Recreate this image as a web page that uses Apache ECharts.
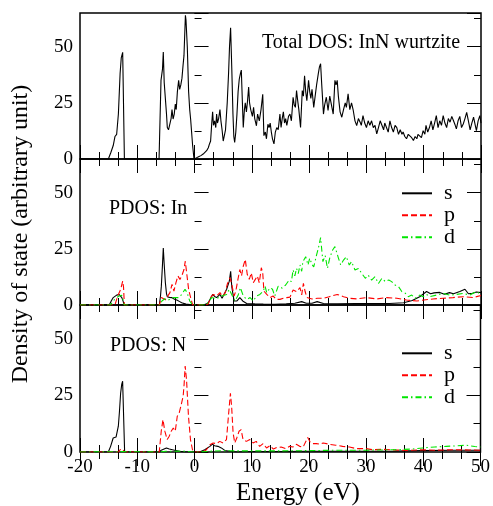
<!DOCTYPE html>
<html><head><meta charset="utf-8">
<script src="https://cdn.jsdelivr.net/npm/echarts@6.0.0/dist/echarts.min.js"></script>
<style>html,body{margin:0;padding:0;background:#fff}#c{width:493px;height:506px}</style>
</head><body><div id="c"></div>
<script>
// ---------- data ----------
const xTicks = [-20, -10, 0, 10, 20, 30, 40, 50];
const yTicks = [0, 25, 50];

const totalE = [-20,-15.05,-14.6,-14.2,-13.9,-13.6,-13.3,-13.0,-12.8,-12.55,-12.4,-12.25,-6.2,-5.86,-5.6,-5.46,-5.3,-5.1,-4.9,-4.76,-4.55,-4.3,-4.1,-3.94,-3.75,-3.55,-3.36,-3.2,-3.0,-2.78,-2.6,-2.4,-2.2,-2.0,-1.85,-1.6,-1.5,-1.27,-1.04,-0.85,-0.69,-0.34,-0.1,0.3,0.7,1.1,1.5,1.8,2.1,2.4,2.6,2.8,3.0,3.15,3.3,3.5,3.7,3.85,4.0,4.2,4.43,4.6,4.8,5.0,5.13,5.4,5.7,5.94,6.1,6.29,6.5,6.7,6.85,7.0,7.2,7.4,7.6,7.8,8.0,8.16,8.35,8.5,8.7,8.85,9.05,9.25,9.44,9.6,9.8,10.1,10.3,10.5,10.8,11.0,11.3,11.6,11.9,12.1,12.35,12.55,12.8,13.0,13.2,13.4,13.6,13.86,14.1,14.35,14.6,14.9,15.1,15.3,15.5,15.7,15.9,16.1,16.4,16.65,16.9,17.2,17.4,17.6,17.8,18.0,18.2,18.5,18.8,19.0,19.2,19.4,19.6,19.9,20.1,20.3,20.5,20.8,21.0,21.3,21.6,21.8,22.0,22.2,22.5,22.7,23.0,23.3,23.6,23.9,24.2,24.5,24.7,24.9,25.1,25.4,25.7,26.0,26.3,26.5,26.8,27.1,27.4,27.7,28.0,28.3,28.6,28.9,29.1,29.4,29.7,30.0,30.3,30.6,30.9,31.2,31.5,31.8,32.1,32.4,32.7,33.0,33.2,33.5,33.8,34.1,34.4,34.7,35.0,35.3,35.6,35.9,36.2,36.4,36.7,37.0,37.3,37.6,37.9,38.2,38.5,38.8,39.0,39.3,39.6,39.9,40.2,40.4,40.7,41.0,41.3,41.6,41.9,42.2,42.5,42.8,43.1,43.4,43.7,44.0,44.3,44.6,44.9,45.2,45.5,45.7,46.0,46.3,46.6,46.9,47.2,47.5,47.8,48.1,48.4,48.7,49.0,49.2,49.5,49.8,50];
const totalV = [0,0,3,6,10,11,20,38,45,47.5,47,0,0,35,40,47.6,34,27,20,14,13,12.5,18,22,17.8,20,24.5,22,30,35,31,33,36,42,46,64,62,50,30,22,17.8,6,0,0.5,1,1.5,2.2,2.5,3.7,5,6.7,8,16,21,15,17,14,20,16,18,22,17,13,8,7.5,13,25,38.5,50,58.4,40,20,10,7.4,12,20,30,35.5,38,39.6,25,14,22,25,21,26,32,25,22,19,23,18,14.8,20,17,22,28.8,10.4,12,9,15.5,14,16,12,9,6.7,12,14,13,20,14,18,21,16,18,15,19,20,17,27.5,24,23,30.5,26,22,14,30.5,28,37,30,26,35,30,27,31,23,27,33,38,41,42.4,33,20,24,27.5,21.6,28,24,20,35,33,35,28,21,18.6,22,25,23,29,22,25,21.6,17,14.9,18,16.4,15,19.3,16,14,17,15,17,14,15,11.2,14,17,15,13,16,15.6,12,17,14,12,15,14,11,13,11,12,10,9,11,10.5,9.5,8.2,10,9,11,11,9.5,12.6,11,15,12,14,17,13,16,19.3,14,17,15,19.3,16,14,18,16.4,19,17,15,13.4,17,19,14,15.6,18,20.8,17,13,16,18.6,15,12.6,17,19.3,16];

const inSE = [-20,-14.9,-14.5,-14.2,-13.9,-13.6,-13.2,-12.9,-12.7,-12.45,-12.3,-6.15,-5.95,-5.8,-5.6,-5.46,-5.3,-5.1,-4.9,-4.76,-4.4,-4.0,-3.5,-3.1,-2.6,-2.25,-1.5,-0.2,1.5,2.0,2.4,2.8,3.15,3.5,3.85,4.1,4.43,4.8,5.1,5.6,6.06,6.3,6.5,6.9,7.4,7.9,8.4,9.1,10.5,12,14,16,17.5,18.7,19.5,20.5,21.4,22.5,25,28,31,34,36.5,38,39.3,40.5,41.2,41.8,42.8,43.6,44.5,45.2,46.3,47.2,47.8,48.5,49.2,50];
const inSV = [0,0,2,3.3,4,4.4,4.7,4.3,3.3,1.5,0,0,4,8.4,18,25.4,18,10,5,3.7,3.4,3.3,2.6,2.2,1.5,1,0.4,0,0,0.4,1,3,4.7,3.8,3.3,4,4.7,3,2.5,7,10.6,15,8,1.8,1.8,3.3,1.8,0.7,0.5,0.4,0.3,0.5,0.8,1.5,0.8,0.8,1.5,0.7,0.5,0.6,0.7,0.7,1,2,3.7,6,5,5.4,5.6,4.8,5.5,5,6,7,5,5.2,5.8,5.5];

const inPE = [-20,-13.9,-13.6,-13.3,-12.9,-12.55,-12.4,-12.26,-6.15,-5.8,-5.46,-5.1,-4.76,-4.3,-3.94,-3.6,-3.25,-2.9,-2.55,-2.2,-1.85,-1.62,-1.38,-1.04,-0.69,-0.34,2.0,2.4,2.8,3.27,3.85,4.43,4.9,5.36,5.7,6.18,6.5,6.9,7.2,7.57,7.9,8.2,8.5,8.85,9.2,9.55,9.9,10.25,10.6,10.95,11.3,11.65,11.9,12.1,12.6,13.2,13.7,14.3,14.9,15.5,16.1,16.65,17.2,17.8,18.4,18.7,19.0,19.3,19.6,20.5,21.5,22.5,23.5,24.9,26,27.1,28.3,30,31.8,33.5,35.3,37,38.8,40,41.6,43.4,45.1,46.9,48.6,50];
const inPV = [0,0,2.5,4.7,7,10.6,8,0,0,3.3,4,2.3,2.5,5.5,9.2,6.2,10,12.9,11.4,13.2,15.8,19.5,14.3,7,3.3,0,0,0.5,3.3,4.7,4,5.5,3.8,5.5,9.2,12.1,9.2,4,6.2,11.4,15.8,13,17.3,20.3,13.6,11.4,14.3,9.9,11.4,12.9,9.9,16.6,14.3,6.2,4.7,3.3,4,2.5,2.5,3,3.3,3.5,6.7,6,7.7,4.5,9.6,6,3.3,2.7,3,3,3.7,4.7,3.7,3,2.7,3.3,2.7,3.3,3,2.2,1.8,2.2,2.7,3,3.3,3.7,3.3,4.2];

const inDE = [-20,-14.7,-14.2,-13.6,-13.2,-12.7,-12.45,-12.3,-6.1,-5.7,-5.2,-4.6,-3.7,-2.8,-2.25,-1.67,-1.3,-0.85,-0.34,2.0,3.0,3.85,4.7,5.6,6.06,6.3,6.6,7.05,7.6,8.0,8.5,9.1,9.7,10.25,10.8,11.4,12.0,12.3,12.6,13.2,13.6,14.0,14.6,14.9,15.3,15.9,16.5,16.9,17.2,17.5,17.8,18.1,18.4,18.7,18.9,19.4,19.8,20.1,20.5,20.8,21.3,21.6,22.0,22.4,22.8,23.2,23.6,24.1,24.5,24.8,25.1,25.5,26.0,26.5,27.0,27.4,28.0,28.6,29.2,29.8,30.3,30.9,31.5,32.1,32.7,33.3,33.9,34.4,35.0,35.6,36.2,36.8,37.3,37.9,38.5,39.3,39.9,40.5,41.1,42.2,43.4,44.5,45.7,46.9,48.0,49.2,50];
const inDV = [0,0,1.8,3.3,4,4.3,2,0,0,1.8,2.8,2.2,3.3,3.3,4.7,7,5.5,1.8,0,0,3.3,2.8,4,4.7,7,7.7,4,1.8,4.3,7.7,4,2.5,3.3,1.8,4,4.7,6.2,8.4,5.5,7.7,7,4,8.4,9,7.5,8.9,11.1,10.4,15.6,13,16.3,14,17.8,15,19.3,21.5,17.8,20.8,18,17,22.3,25.2,30,19.3,22,16.3,21,24.5,26,26,21,17.8,20,21.5,17.8,19.3,15.6,16.3,14,11.9,13.3,11.1,12.6,9.6,11.9,10.4,11.1,10.4,8.9,8.2,5.9,5.2,3.7,4.4,3,4.4,3.7,4.7,3.7,4.4,5.2,4.4,4.7,5.2,4.4,6,4.7];

const nSE = [-20,-15.05,-14.65,-14.2,-13.7,-13.3,-13.1,-12.9,-12.7,-12.55,-12.4,-12.2,-6.2,-5.8,-5.46,-4.9,-4.4,-3.5,-2.6,-1.5,0.9,1.8,2.7,3.15,3.5,4.1,4.7,5.3,6.2,7.4,10,15,20,25,30,35,40,45,50];
const nSV = [0,0,2.5,6.2,6.6,11.4,18,26,30,31.3,31.3,0,0,0.8,1.3,1.8,1.3,0.8,0.3,0,0,1,2.5,3.5,2.8,2.5,1.8,0.7,0.3,0,0.2,0.2,0.3,0.3,0.3,0.4,0.6,0.8,0.8];

const nPE = [-20,-13.3,-13,-12.55,-12.26,-6.15,-5.8,-5.5,-5.17,-4.76,-4.4,-4.06,-3.7,-3.35,-3.0,-2.66,-2.3,-1.97,-1.8,-1.62,-1.38,-1.04,-0.69,-0.34,-0.1,1.5,2.1,2.7,3.27,3.85,4.43,5.0,5.6,5.94,6.29,6.5,6.76,7.05,7.4,7.8,8.16,8.5,9.1,9.67,10.25,10.8,11.4,12.0,12.6,13.2,13.8,14.4,15.15,15.9,16.65,17.2,17.8,18.4,19.0,19.8,20.2,20.6,21.3,22.0,22.5,23.6,24.7,25.9,27.1,28.3,30,31.2,33,35,37,40,42,45,48,50];
const nPV = [0,0,1,1.3,0,0,9.2,14.3,9.2,5.5,7,9.2,10.6,9.2,15.8,17.3,21,24.7,30,38,32,15.8,5.5,1,0,0,1,3.2,4,3.7,4.7,4,5.5,15.8,26,20.2,8.4,4,6.2,9.2,9.9,5.5,4.7,5.5,4,4.7,2.5,3.7,1.8,2.8,1.3,2,2.2,1.5,2.5,2.2,3.4,2.5,2.2,6.4,4.5,3.7,3.7,3.4,4,3.4,3,2.5,2.2,1.5,1.5,1,1.2,0.9,0.7,1,0.8,1,0.9,0.8];

const nDE = [-20,-14,-12.5,-12.2,-6,-5,-2,-0.3,1,3,5,7,10,15,20,25,30,35,38,39.9,42,44,45.7,47.5,49,50];
const nDV = [0,0.1,0.2,0,0,0.3,0.4,0,0,0.4,0.6,0.5,0.5,0.5,0.6,0.8,0.8,1,1.3,1.8,2.2,2.5,2.7,3,2.4,2.2];

const orbitals = ['s', 'p', 'd'];
const panelTitles = ['Total DOS: InN wurtzite', 'PDOS: In', 'PDOS: N'];

// ---------- chart ----------
const FONT = '"Liberation Serif", "Times New Roman", serif';
const zip = (xs, ys) => xs.map((x, i) => [x, ys[i]]);
const tops = [13, 159, 305];
const heights = [146, 146, 147];

const grid = tops.map((t, i) => ({
  left: 80, top: t, width: 401, height: heights[i],
  show: true, borderColor: '#000', borderWidth: 1.5, backgroundColor: 'transparent'
}));

const tickStyle = { color: '#000', width: 1 };
const xAxis = [];
const yAxis = [];
for (let i = 0; i < 3; i++) {
  ['bottom', 'top'].forEach(pos => {
    xAxis.push({
      type: 'value', gridIndex: i, position: pos,
      min: xTicks[0], max: xTicks[xTicks.length - 1], interval: xTicks[1] - xTicks[0],
      axisLine: { show: false },
      axisTick: { show: true, inside: true, length: 14, lineStyle: tickStyle },
      minorTick: { show: true, splitNumber: 3, length: 7, lineStyle: tickStyle },
      splitLine: { show: false }, minorSplitLine: { show: false },
      axisLabel: { show: i === 2 && pos === 'bottom', color: '#000', fontFamily: FONT, fontSize: 19, margin: 6 }
    });
  });
  ['left', 'right'].forEach(pos => {
    [true, false].forEach(major => {
      yAxis.push({
        type: 'value', gridIndex: i, position: pos,
        min: 0, max: 65, interval: major ? yTicks[1] : yTicks[1] / 2,
        axisLine: { show: false },
        axisTick: { show: true, inside: true, length: major ? 14 : 7, lineStyle: tickStyle },
        splitLine: { show: false },
        axisLabel: {
          show: major && pos === 'left', color: '#000', fontFamily: FONT, fontSize: 19, margin: 7,
          formatter: v => (yTicks.indexOf(v) >= 0 ? String(v) : '')
        }
      });
    });
  });
}

const colors = { s: '#000000', p: '#ff0000', d: '#00e600' };
const dash = { s: 'solid', p: [6, 3], d: [6, 3, 1.5, 3] };
function mk(name, gi, data) {
  return {
    type: 'line', name, xAxisIndex: gi * 2, yAxisIndex: gi * 4, data,
    symbol: 'none', silent: true, animation: false,
    lineStyle: { color: colors[name] || '#000', width: 1.1, type: dash[name] || 'solid' },
    itemStyle: { color: colors[name] || '#000' }
  };
}
const series = [
  mk('Total', 0, zip(totalE, totalV)),
  mk('s', 1, zip(inSE, inSV)),
  mk('p', 1, zip(inPE, inPV)),
  mk('d', 1, zip(inDE, inDV)),
  mk('s', 2, zip(nSE, nSV)),
  mk('p', 2, zip(nPE, nPV)),
  mk('d', 2, zip(nDE, nDV))
];

const legendBase = {
  data: orbitals, orient: 'vertical', left: 401, itemWidth: 30, itemHeight: 14, itemGap: 0,
  padding: 0, selectedMode: false,
  itemStyle: { opacity: 0 },
  textStyle: { fontFamily: FONT, fontSize: 22, color: '#000', padding: [0, 0, 0, 7] }
};
const legend = [Object.assign({ top: 182.3 }, legendBase), Object.assign({ top: 342.3 }, legendBase)];

function txt(text, x, y, size, align, rot) {
  return {
    type: 'text', x, y, rotation: rot || 0, silent: true,
    style: {
      text, font: size + 'px ' + FONT, fill: '#000',
      textAlign: align, textVerticalAlign: 'middle', align: align, verticalAlign: 'middle'
    }
  };
}
const graphic = [
  txt(panelTitles[0], 262, 42.7, 20, 'left'),
  txt(panelTitles[1], 109, 208.7, 20, 'left'),
  txt(panelTitles[2], 110, 345.3, 20, 'left'),
  txt('Energy (eV)', 298, 493, 25, 'center'),
  txt('Density of state (arbitrary unit)', 21, 234, 24, 'center', Math.PI / 2)
];

const chart = echarts.init(document.getElementById('c'), null, { renderer: 'canvas' });
chart.setOption({ animation: false, backgroundColor: '#fff', grid, xAxis, yAxis, series, legend, graphic });
</script></body></html>
